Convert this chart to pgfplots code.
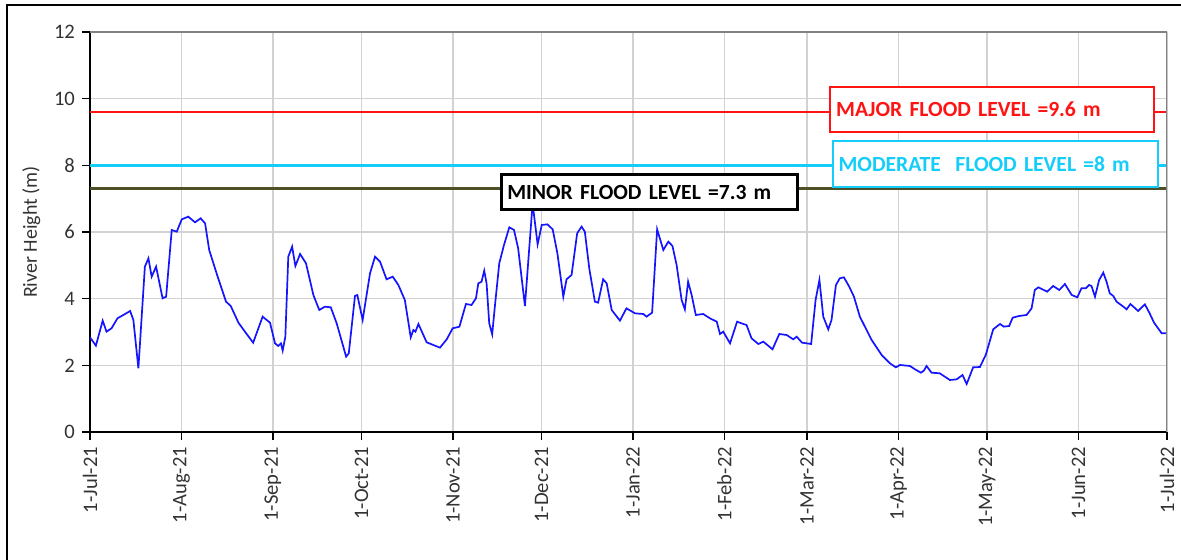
\documentclass[border=0pt]{standalone}
\usepackage{pgfplots}
\pgfplotsset{compat=1.18}
\usepackage{fontspec}
\setmainfont{Carlito}

\definecolor{majorred}{RGB}{255,20,20}
\definecolor{modcyan}{RGB}{20,205,250}
\definecolor{minorolive}{RGB}{80,80,40}
\definecolor{gridgray}{RGB}{210,210,210}
\definecolor{framegray}{RGB}{130,130,130}
\definecolor{riverblue}{RGB}{20,20,255}

\begin{document}
\begin{tikzpicture}
\useasboundingbox (0,0) rectangle (590.5pt,280pt);
% chart area border (cropped on right and bottom)
\draw[black, line width=0.8pt] (3.5pt,0) -- (3.5pt,277.5pt) -- (590.5pt,277.5pt);
\begin{axis}[
    at={(45pt,64pt)}, anchor=south west,
    width=538.5pt, height=200pt, scale only axis,
    xmin=0, xmax=365, ymin=0, ymax=12,
    xtick={0,31,62,92,123,153,184,215,243,274,304,335,365},
    xticklabels={1-Jul-21,1-Aug-21,1-Sep-21,1-Oct-21,1-Nov-21,1-Dec-21,1-Jan-22,1-Feb-22,1-Mar-22,1-Apr-22,1-May-22,1-Jun-22,1-Jul-22},
    ytick={0,2,4,6,8,10,12},
    axis x line*=bottom, axis y line*=left,
    axis line style={black, line width=1pt},
    tick align=outside, major tick length=4pt,
    tick style={black, line width=0.8pt},
    grid=major, grid style={gridgray, line width=0.75pt},
    tick label style={font=\fontsize{10.3}{12}\selectfont, text=black!80},
    x tick label style={rotate=90, anchor=east},
    ylabel={River Height (m)},
    ylabel style={font=\fontsize{10}{12}\selectfont, text=black!80},
    /pgf/number format/assume math mode=true,
]
% flood levels
\addplot[majorred, line width=1.4pt] coordinates {(0,9.6) (365,9.6)};
\addplot[modcyan, line width=1.4pt] coordinates {(0,8) (365,8)};
\addplot[minorolive, line width=1.4pt] coordinates {(0,7.3) (365,7.3)};

% river height
\addplot[riverblue, line width=0.85pt] coordinates {
(0,2.84) (2,2.59) (4.3,3.34) (5.6,3.01) (7.3,3.11) (9.3,3.41) (11.3,3.51)
(13.6,3.63) (14.7,3.36) (16.4,1.91) (18.6,4.96) (19.8,5.21) (20.9,4.66)
(22.4,4.96) (24.6,4.01) (25.8,4.06) (27.7,6.06) (29.4,6.01) (31.1,6.38)
(33.3,6.46) (35.6,6.29) (37.5,6.41) (39,6.26) (40.4,5.46) (42.9,4.76)
(46.1,3.91) (47.7,3.78) (50.3,3.28) (52.5,3.01) (55.3,2.68) (58.5,3.46)
(61,3.28) (62.7,2.66) (63.8,2.58) (64.7,2.66) (65.3,2.44) (66.2,2.86)
(67.2,5.26) (68.5,5.56) (69.6,4.98) (71.2,5.34) (73.2,5.06) (75.7,4.11)
(77.7,3.66) (79.6,3.76) (81.6,3.74) (83.6,3.26) (86.8,2.26) (87.7,2.36)
(89.8,4.08) (90.6,4.11) (92.4,3.36) (94.9,4.76) (96.6,5.26) (98.3,5.11)
(100.5,4.58) (102.6,4.66) (104.5,4.41) (106.7,3.96) (108.7,2.84) (109.6,3.06)
(110.3,3.01) (111.3,3.24) (114.1,2.69) (118.6,2.53) (120.9,2.78) (122.9,3.11)
(125.2,3.16) (127.4,3.84) (129.3,3.81) (130.8,4.01) (131.6,4.46) (132.7,4.51)
(133.6,4.84) (134.4,4.46) (135.3,3.26) (136.3,2.93) (137.2,3.76) (138.7,5.06)
(140.3,5.61) (142.1,6.14) (143.7,6.06) (145.1,5.51) (147.4,3.78) (148.9,5.56)
(150,6.85) (151.7,5.63) (153.1,6.21) (155,6.23) (156.8,6.08) (158.4,5.36)
(160.4,4.06) (161.5,4.58) (163.2,4.71) (165.1,5.96) (166.6,6.16) (167.7,6.01)
(169.2,4.91) (171.1,3.91) (172.2,3.88) (173.9,4.58) (175.1,4.46) (176.8,3.66)
(179.6,3.34) (181.8,3.71) (184.7,3.56) (187.5,3.54) (188.6,3.46) (190.5,3.58)
(192.2,6.08) (194.3,5.46) (196,5.71) (197.4,5.58) (198.8,5.01) (200.5,3.96)
(201.6,3.68) (202.7,4.51) (203.9,4.11) (205.3,3.51) (207.8,3.54) (210.1,3.41)
(212.4,3.31) (213.5,2.94) (214.6,3.01) (216.9,2.66) (219.3,3.31) (220.8,3.26)
(222.5,3.21) (224.2,2.81) (226.5,2.64) (228.2,2.71) (231.3,2.48) (233.6,2.94)
(236.1,2.91) (238.3,2.78) (239.5,2.86) (241.3,2.68) (244.4,2.64) (245.9,3.96)
(247.2,4.56) (248.5,3.46) (250.2,3.08) (251.3,3.36) (252.8,4.41) (254.1,4.61)
(255.5,4.64) (257.3,4.36) (258.9,4.06) (260.9,3.46) (264.9,2.76) (268.3,2.31)
(271.1,2.06) (273.1,1.94) (274.5,2.01) (277.9,1.98) (279.6,1.88) (281.6,1.78)
(282.6,1.84) (283.5,1.98) (285.2,1.78) (288,1.76) (291.4,1.56) (293.7,1.58)
(295.7,1.71) (297.1,1.44) (299.3,1.94) (301.6,1.95) (303.6,2.32) (306.1,3.08)
(308.4,3.24) (309.7,3.16) (311.5,3.18) (312.7,3.43) (314.9,3.48) (317.4,3.51)
(319.1,3.71) (320.2,4.26) (321.4,4.34) (324.4,4.21) (326.4,4.38) (328.5,4.26)
(330.4,4.44) (332.7,4.11) (334.6,4.04) (336,4.31) (337.5,4.31) (338.6,4.41)
(339.4,4.38) (340.6,4.06) (342,4.56) (343.4,4.78) (344.5,4.51) (345.6,4.16)
(346.8,4.08) (347.9,3.91) (350.2,3.76) (351.3,3.68) (352.6,3.84) (355.2,3.63)
(357.5,3.83) (359,3.58) (360.6,3.28) (363.2,2.96) (364.9,2.96)
};

% grey frame on top and right
\draw[framegray, line width=1.4pt] (rel axis cs:0,1) -- (rel axis cs:1,1) -- (rel axis cs:1,0);

% level labels
\node[draw=majorred, line width=1pt, fill=white, text=majorred, anchor=north west,
      font=\bfseries\fontsize{10.8}{12}\selectfont, inner xsep=3pt,
      text width=155.7pt, align=left, minimum height=22.3pt]
  at (axis cs:250.5,10.38) {MAJOR FLOOD LEVEL =9.6 m};
\node[draw=modcyan, line width=1pt, fill=white, text=modcyan, anchor=north west,
      font=\bfseries\fontsize{10.8}{12}\selectfont, inner xsep=3pt,
      text width=156.5pt, align=left, minimum height=23pt]
  at (axis cs:251.3,8.76) {MODERATE\ \ FLOOD LEVEL =8 m};
\node[draw=black, line width=1.4pt, fill=white, text=black, anchor=north west,
      font=\bfseries\fontsize{10.8}{12}\selectfont, inner xsep=3pt,
      text width=142pt, align=left, minimum height=17.5pt]
  at (axis cs:138.9,7.76) {MINOR FLOOD LEVEL =7.3 m};
\end{axis}
\end{tikzpicture}
\end{document}
